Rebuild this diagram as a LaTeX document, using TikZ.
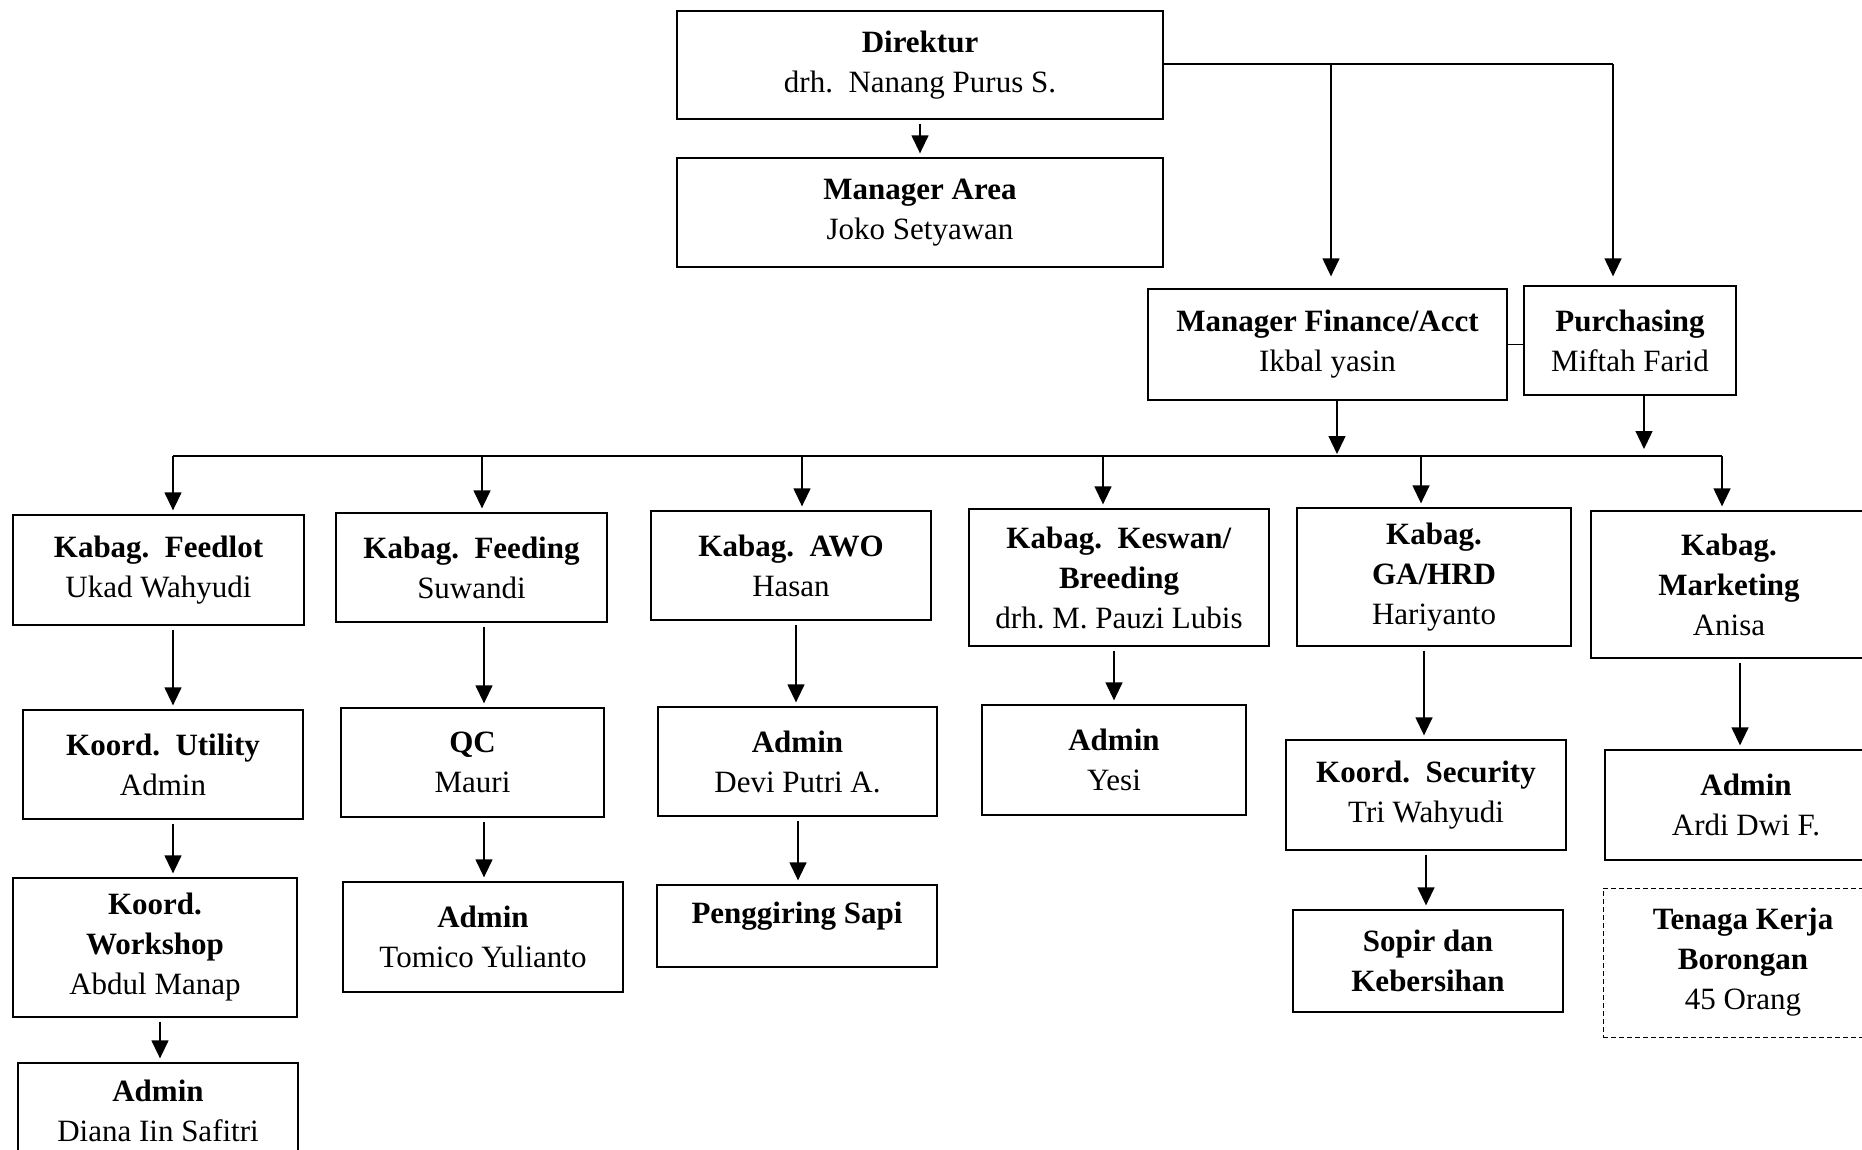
\documentclass[tikz,border=0pt]{standalone}
\usepackage{fontspec}
\setmainfont{Liberation Serif}
\usepackage{tikz}
\usetikzlibrary{arrows.meta}
\tikzset{orgbox/.style={draw,line width=1.3pt,align=center,inner sep=0pt,font=\fontsize{31}{40}\selectfont},
	orgdash/.style={orgbox,line width=1pt,dash pattern=on 5pt off 3pt},
	arr/.style={-{Triangle[length=18pt,width=17pt]},line width=1.3pt,shorten >=4pt,shorten <=4pt},
	ln/.style={line width=1.3pt}}
\frenchspacing

\begin{document}
\begin{tikzpicture}[x=1pt,y=-1pt]
				\useasboundingbox (0,0) rectangle (1862,1149);
				\node[orgbox,minimum width=486pt,minimum height=108pt] (direktur) at (920,65) {\textbf{Direktur}\\drh.\ \ Nanang Purus S.};
				\node[orgbox,minimum width=486pt,minimum height=109pt] (area) at (920,212.5) {\textbf{Manager Area}\\Joko Setyawan};
				\node[orgbox,minimum width=359pt,minimum height=111pt] (finance) at (1327.5,344.5) {\textbf{Manager Finance/Acct}\\Ikbal yasin};
				\node[orgbox,minimum width=212pt,minimum height=109pt] (purchasing) at (1630,340.5) {\textbf{Purchasing}\\Miftah Farid};
				\node[orgbox,minimum width=291pt,minimum height=110pt] (feedlot) at (158.5,570) {\textbf{Kabag.\ \ Feedlot}\\Ukad Wahyudi};
				\node[orgbox,minimum width=271pt,minimum height=109pt] (feeding) at (471.5,567.5) {\textbf{Kabag.\ \ Feeding}\\Suwandi};
				\node[orgbox,minimum width=280pt,minimum height=109pt] (awo) at (791,565.5) {\textbf{Kabag.\ \ AWO}\\Hasan};
				\node[orgbox,minimum width=300pt,minimum height=137pt] (keswan) at (1119,577.5) {\textbf{Kabag.\ \ Keswan/}\\\textbf{Breeding}\\drh. M. Pauzi Lubis};
				\node[orgbox,minimum width=274pt,minimum height=138pt] (gahrd) at (1434,577) {\textbf{Kabag.}\\\textbf{GA/HRD}\\Hariyanto};
				\node[orgbox,minimum width=276pt,minimum height=147pt] (marketing) at (1729,584.5) {\textbf{Kabag.}\\\textbf{Marketing}\\Anisa};
				\node[orgbox,minimum width=280pt,minimum height=109pt] (utility) at (163,764.5) {\textbf{Koord.\ \ Utility}\\Admin};
				\node[orgbox,minimum width=263pt,minimum height=109pt] (qc) at (472.5,762.5) {\textbf{QC}\\Mauri};
				\node[orgbox,minimum width=279pt,minimum height=109pt] (admawo) at (797.5,761.5) {\textbf{Admin}\\Devi Putri A.};
				\node[orgbox,minimum width=264pt,minimum height=110pt] (admkeswan) at (1114,760) {\textbf{Admin}\\Yesi};
				\node[orgbox,minimum width=280pt,minimum height=110pt] (security) at (1426,795) {\textbf{Koord.\ \ Security}\\Tri Wahyudi};
				\node[orgbox,minimum width=282pt,minimum height=110pt] (admmkt) at (1746,805) {\textbf{Admin}\\Ardi Dwi F.};
				\node[orgbox,minimum width=284pt,minimum height=139pt] (workshop) at (155,947.5) {\textbf{Koord.}\\\textbf{Workshop}\\Abdul Manap};
				\node[orgbox,minimum width=280pt,minimum height=110pt] (admqc) at (483,937) {\textbf{Admin}\\Tomico Yulianto};
				\node[orgbox,minimum width=280pt,minimum height=82pt,text depth=27pt] (penggiring) at (797,926) {\textbf{Penggiring Sapi}};
				\node[orgbox,minimum width=270pt,minimum height=102pt] (sopir) at (1428,961) {\textbf{Sopir dan}\\\textbf{Kebersihan}};
				\node[orgdash,minimum width=280pt,minimum height=149pt] (borongan) at (1743,962.5) {\textbf{Tenaga Kerja}\\\textbf{Borongan}\\45 Orang};
				\node[orgbox,minimum width=280pt,minimum height=96pt] (admws) at (158,1111) {\textbf{Admin}\\Diana Iin Safitri};
				\coordinate (dirend) at (1613,64);
				\coordinate (busL) at (173,456);
				\coordinate (busR) at (1722,456);
				\draw[arr] (direktur) -- (area);
				\draw[ln] (direktur.east |- dirend) -- (dirend);
				\draw[arr,shorten >=12pt,shorten <=0pt] (1331,0 |- dirend) -- (finance.north -| 1331,0);
				\draw[arr,shorten >=9pt,shorten <=0pt] (dirend) -- (purchasing.north -| dirend);
				\draw[ln] (finance.east) -- (finance.east -| purchasing.west);
				\draw[arr,shorten >=2pt,shorten <=0pt] (finance.south -| 1337,0) -- (1337,0 |- busL);
				\draw[arr,shorten >=7pt,shorten <=0pt] (purchasing.south -| 1644,0) -- (1644,0 |- busL);
				\draw[ln] (busL) -- (busR);
				\foreach \c/\x in {feedlot/173,feeding/482,awo/802,keswan/1103,gahrd/1421,marketing/1722}
					\draw[arr,shorten <=0pt] (\x,0 |- busL) -- (\c.north -| \x,0);
				\foreach \p/\c/\x in {feedlot/utility/173,utility/workshop/173,workshop/admws/160,feeding/qc/484,qc/admqc/484,awo/admawo/796,admawo/penggiring/798,keswan/admkeswan/1114,gahrd/security/1424,security/sopir/1426,marketing/admmkt/1740}
					\draw[arr] (\p.south -| \x,0) -- (\c.north -| \x,0);
			\end{tikzpicture}
\end{document}
